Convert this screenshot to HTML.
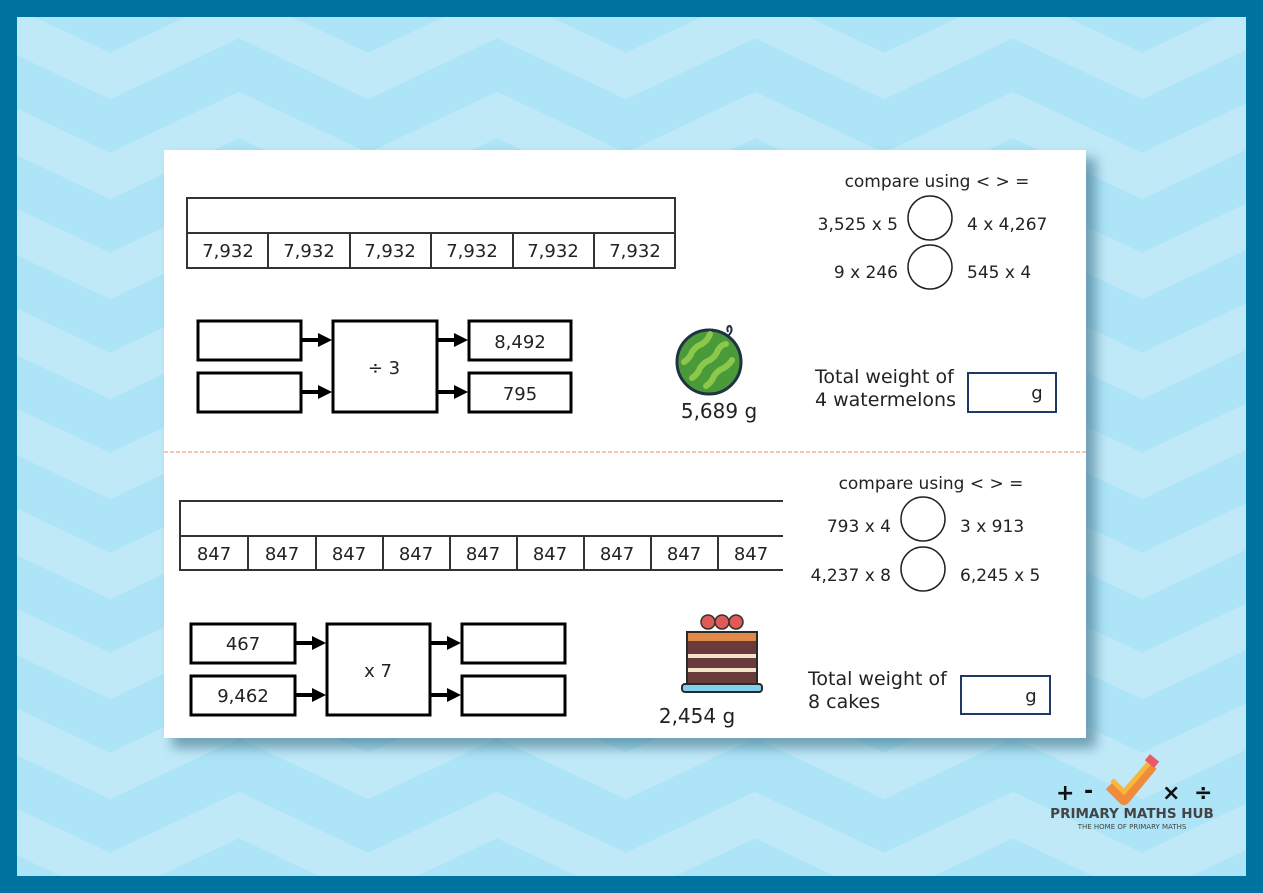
<!DOCTYPE html>
<html><head><meta charset="utf-8"><style>
html,body{margin:0;padding:0;width:1263px;height:893px;overflow:hidden;background:#0073a0}
svg{display:block;position:absolute;left:0;top:0}
text{font-family:"DejaVu Sans","Liberation Sans",sans-serif;fill:#222}
</style></head><body>
<svg width="1263" height="893" viewBox="0 0 1263 893" xmlns="http://www.w3.org/2000/svg">
<defs>
<clipPath id="inner"><rect x="17" y="17" width="1229" height="859"/></clipPath>
<polyline id="zz" fill="none" stroke="#c0e9f8" stroke-width="42" points="-148,76 -19,15 110,76 239,15 368,76 497,15 626,76 755,15 884,76 1013,15 1142,76 1271,15 1400,76"/>
<filter id="sh" x="-10%" y="-10%" width="130%" height="130%"><feGaussianBlur stdDeviation="6"/></filter>
</defs>
<rect x="0" y="0" width="1263" height="893" fill="#0073a0"/>
<g clip-path="url(#inner)">
<rect x="17" y="17" width="1229" height="859" fill="#ade4f7"/>
<use href="#zz" y="-100"/><use href="#zz" y="0"/><use href="#zz" y="100"/><use href="#zz" y="200"/><use href="#zz" y="300"/><use href="#zz" y="400"/><use href="#zz" y="500"/><use href="#zz" y="600"/><use href="#zz" y="700"/><use href="#zz" y="800"/><use href="#zz" y="900"/>
</g>
<rect x="172" y="158" width="924" height="590" fill="#3a6f86" opacity="0.6" filter="url(#sh)"/>
<rect x="164" y="150" width="922" height="588" fill="#fff"/>
<line x1="164" y1="452" x2="1086" y2="452" stroke="#f4a582" stroke-width="1.2" stroke-dasharray="4,2"/>

<g stroke="#333" stroke-width="2" fill="none">
<rect x="187" y="198" width="488" height="70"/>
<line x1="187" y1="233" x2="675" y2="233"/>
<line x1="268" y1="233" x2="268" y2="268"/><line x1="350" y1="233" x2="350" y2="268"/><line x1="431" y1="233" x2="431" y2="268"/><line x1="513" y1="233" x2="513" y2="268"/><line x1="594" y1="233" x2="594" y2="268"/>
</g>
<g font-size="18" text-anchor="middle">
<text x="228" y="257">7,932</text><text x="309" y="257">7,932</text><text x="390" y="257">7,932</text><text x="472" y="257">7,932</text><text x="553" y="257">7,932</text><text x="635" y="257">7,932</text>
</g>

<g stroke="#000" stroke-width="3" fill="#fff">
<rect x="198" y="321" width="103" height="39"/><rect x="198" y="373" width="103" height="39"/>
<rect x="333" y="321" width="104" height="91"/>
<rect x="469" y="321" width="102" height="39"/><rect x="469" y="373" width="102" height="39"/>
</g>
<g stroke="#000" stroke-width="4"><line x1="301" y1="340" x2="320" y2="340"/><line x1="301" y1="392" x2="320" y2="392"/><line x1="437" y1="340" x2="456" y2="340"/><line x1="437" y1="392" x2="456" y2="392"/></g>
<g fill="#000"><polygon points="318,333 332,340 318,347"/><polygon points="318,385 332,392 318,399"/><polygon points="454,333 468,340 454,347"/><polygon points="454,385 468,392 454,399"/></g>
<g font-size="18" text-anchor="middle"><text x="384" y="374">÷ 3</text><text x="520" y="348">8,492</text><text x="520" y="400">795</text></g>

<circle cx="709" cy="362" r="32" fill="#4a9a3a" stroke="#1f3340" stroke-width="3"/>
<g stroke="#8cc84b" stroke-width="6" fill="none" stroke-linecap="round">
<path d="M684,362 q6,-4 8,-10 q4,-6 10,-8 q6,-4 8,-10"/>
<path d="M692,378 q6,-4 8,-10 q4,-6 10,-8 q6,-4 8,-10 q4,-6 8,-6"/>
<path d="M706,386 q6,-4 8,-10 q4,-6 10,-8 q6,-4 8,-8"/>
</g>
<path d="M728,336 q6,-6 2,-10 q-4,0 -2,6" stroke="#1f3340" stroke-width="2" fill="none"/>
<text x="719" y="418" font-size="20" text-anchor="middle">5,689 g</text>

<g font-size="17"><text x="937" y="187" text-anchor="middle">compare using &lt; &gt; =</text>
<text x="898" y="230" text-anchor="end">3,525 x 5</text><text x="967" y="230">4 x 4,267</text>
<text x="898" y="278" text-anchor="end">9 x 246</text><text x="967" y="278">545 x 4</text></g>
<circle cx="930" cy="218" r="22" fill="none" stroke="#222" stroke-width="1.5"/>
<circle cx="930" cy="267" r="22" fill="none" stroke="#222" stroke-width="1.5"/>
<g font-size="19"><text x="815" y="383">Total weight of</text><text x="815" y="406">4 watermelons</text></g>
<rect x="968" y="373" width="88" height="39" fill="none" stroke="#1f3864" stroke-width="2"/>
<text x="1037" y="399" font-size="18" text-anchor="middle">g</text>

<g stroke="#333" stroke-width="2" fill="none">
<polyline points="783,501 180,501 180,570 783,570"/>
<line x1="180" y1="536" x2="783" y2="536"/>
<line x1="248" y1="536" x2="248" y2="570"/><line x1="316" y1="536" x2="316" y2="570"/><line x1="383" y1="536" x2="383" y2="570"/><line x1="450" y1="536" x2="450" y2="570"/><line x1="517" y1="536" x2="517" y2="570"/><line x1="584" y1="536" x2="584" y2="570"/><line x1="651" y1="536" x2="651" y2="570"/><line x1="718" y1="536" x2="718" y2="570"/>
</g>
<g font-size="18" text-anchor="middle">
<text x="214" y="560">847</text><text x="282" y="560">847</text><text x="349" y="560">847</text><text x="416" y="560">847</text><text x="483" y="560">847</text><text x="550" y="560">847</text><text x="617" y="560">847</text><text x="684" y="560">847</text><text x="751" y="560">847</text>
</g>

<g stroke="#000" stroke-width="3" fill="#fff">
<rect x="191" y="624" width="104" height="39"/><rect x="191" y="676" width="104" height="39"/>
<rect x="327" y="624" width="103" height="91"/>
<rect x="462" y="624" width="103" height="39"/><rect x="462" y="676" width="103" height="39"/>
</g>
<g stroke="#000" stroke-width="4"><line x1="295" y1="643" x2="314" y2="643"/><line x1="295" y1="695" x2="314" y2="695"/><line x1="430" y1="643" x2="449" y2="643"/><line x1="430" y1="695" x2="449" y2="695"/></g>
<g fill="#000"><polygon points="312,636 326,643 312,650"/><polygon points="312,688 326,695 312,702"/><polygon points="447,636 461,643 447,650"/><polygon points="447,688 461,695 447,702"/></g>
<g font-size="18" text-anchor="middle"><text x="243" y="650">467</text><text x="243" y="702">9,462</text><text x="378" y="677">x 7</text></g>

<g>
<circle cx="708" cy="622" r="7" fill="#e05a5a" stroke="#333" stroke-width="1.5"/>
<circle cx="722" cy="622" r="7" fill="#e05a5a" stroke="#333" stroke-width="1.5"/>
<circle cx="736" cy="622" r="7" fill="#e05a5a" stroke="#333" stroke-width="1.5"/>
<rect x="687" y="632" width="70" height="52" fill="#6b3a3a" stroke="#2a2a2a" stroke-width="2"/>
<rect x="688" y="633" width="68" height="8" fill="#e08a4a"/>
<rect x="688" y="654" width="68" height="4" fill="#f3e3c8"/>
<rect x="688" y="668" width="68" height="4" fill="#f3e3c8"/>
<rect x="682" y="684" width="80" height="8" rx="3" fill="#7fd0ec" stroke="#2a2a2a" stroke-width="2"/>
</g>
<text x="697" y="723" font-size="20" text-anchor="middle">2,454 g</text>

<g font-size="17"><text x="931" y="489" text-anchor="middle">compare using &lt; &gt; =</text>
<text x="891" y="532" text-anchor="end">793 x 4</text><text x="960" y="532">3 x 913</text>
<text x="891" y="581" text-anchor="end">4,237 x 8</text><text x="960" y="581">6,245 x 5</text></g>
<circle cx="923" cy="519" r="22" fill="none" stroke="#222" stroke-width="1.5"/>
<circle cx="923" cy="569" r="22" fill="none" stroke="#222" stroke-width="1.5"/>
<g font-size="19"><text x="808" y="685">Total weight of</text><text x="808" y="708">8 cakes</text></g>
<rect x="961" y="676" width="89" height="38" fill="none" stroke="#1f3864" stroke-width="2"/>
<text x="1031" y="702" font-size="18" text-anchor="middle">g</text>

<g>
<path d="M1110,785 l14,14 l28,-34" stroke="#f08a3c" stroke-width="12" fill="none" stroke-linejoin="round"/>
<path d="M1112,780 l12,12 l26,-30" stroke="#f6b73c" stroke-width="5" fill="none"/>
<rect x="1146" y="757" width="12" height="8" fill="#e85a6a" transform="rotate(40 1152 761)"/>
<text x="1056" y="800" font-size="22" font-weight="bold" style="fill:#111">+</text>
<text x="1084" y="798" font-size="22" font-weight="bold" style="fill:#111">-</text>
<text x="1162" y="800" font-size="22" font-weight="bold" style="fill:#111">×</text>
<text x="1194" y="800" font-size="22" font-weight="bold" style="fill:#111">÷</text>
<text x="1132" y="818" font-size="13.5" font-weight="bold" text-anchor="middle" style="fill:#444">PRIMARY MATHS HUB</text>
<text x="1132" y="829" font-size="7" text-anchor="middle" style="fill:#444">THE HOME OF PRIMARY MATHS</text>
</g>
</svg>
</body></html>
